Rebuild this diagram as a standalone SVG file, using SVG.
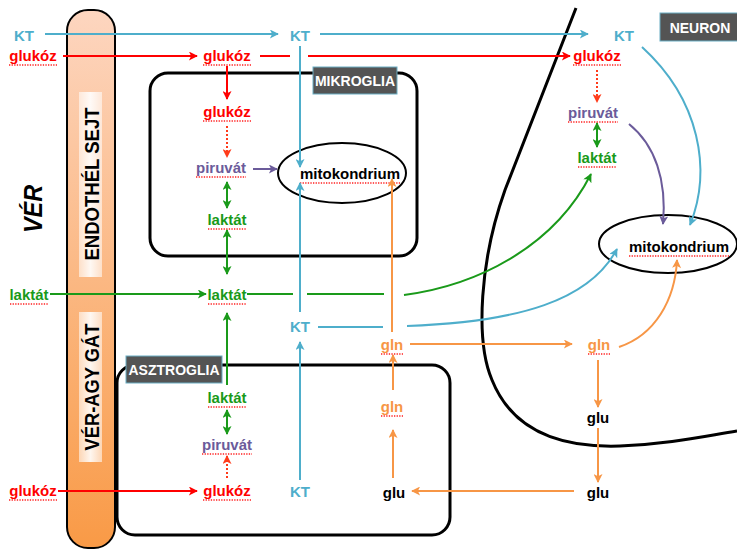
<svg xmlns="http://www.w3.org/2000/svg" width="737" height="552" viewBox="0 0 737 552">
<defs>
<linearGradient id="barGrad" x1="0" y1="0" x2="0" y2="1">
<stop offset="0" stop-color="#fdd6c0"/>
<stop offset="1" stop-color="#f99a46"/>
</linearGradient>
<linearGradient id="tagGrad" x1="0" y1="0" x2="1" y2="0">
<stop offset="0" stop-color="#fff" stop-opacity="0.55"/>
<stop offset="0.5" stop-color="#fff" stop-opacity="0.9"/>
<stop offset="1" stop-color="#fff" stop-opacity="0.55"/>
</linearGradient>
<marker id="aBlue" viewBox="0 0 10 10" refX="9" refY="5" markerWidth="10" markerHeight="9" markerUnits="userSpaceOnUse" orient="auto-start-reverse"><path d="M0,0 L10,5 L0,10 L2.5,5 z" fill="#4eaecb"/></marker>
<marker id="aRed" viewBox="0 0 10 10" refX="9" refY="5" markerWidth="10" markerHeight="9" markerUnits="userSpaceOnUse" orient="auto-start-reverse"><path d="M0,0 L10,5 L0,10 L2.5,5 z" fill="#ff0000"/></marker>
<marker id="aRed2" viewBox="0 0 10 10" refX="9" refY="5" markerWidth="10" markerHeight="9" markerUnits="userSpaceOnUse" orient="auto-start-reverse"><path d="M0,0 L10,5 L0,10 L2.5,5 z" fill="#ff3b1a"/></marker>
<marker id="aGreen" viewBox="0 0 10 10" refX="9" refY="5" markerWidth="10" markerHeight="9" markerUnits="userSpaceOnUse" orient="auto-start-reverse"><path d="M0,0 L10,5 L0,10 L2.5,5 z" fill="#1a9a1a"/></marker>
<marker id="aPurple" viewBox="0 0 10 10" refX="9" refY="5" markerWidth="10" markerHeight="9" markerUnits="userSpaceOnUse" orient="auto-start-reverse"><path d="M0,0 L10,5 L0,10 L2.5,5 z" fill="#6b5b9a"/></marker>
<marker id="aOrange" viewBox="0 0 10 10" refX="9" refY="5" markerWidth="10" markerHeight="9" markerUnits="userSpaceOnUse" orient="auto-start-reverse"><path d="M0,0 L10,5 L0,10 L2.5,5 z" fill="#f79646"/></marker>
</defs>
<style>
text{font-family:"Liberation Sans",Arial,sans-serif;font-weight:bold;font-size:15px;text-anchor:middle}
.blue{fill:#4eaecb}.red{fill:#ff0000}.green{fill:#1a9a1a}.purple{fill:#6b5b9a}.orange{fill:#f79646}.black{fill:#000}
.ul{stroke:#ff2020;stroke-width:1.3;stroke-dasharray:1.3,1.3;fill:none}
.tag rect{fill:#545454;stroke:#6aaec4;stroke-width:1}
.tag text{fill:#fff;font-size:14px}
.cell{fill:none;stroke:#000;stroke-width:3}
.ln{fill:none;stroke-width:2}
.lb{stroke:#4eaecb}.lr{stroke:#ff0000}.lr2{stroke:#ff3b1a;stroke-dasharray:2,2}.lg{stroke:#1a9a1a}.lp{stroke:#6b5b9a}.lo{stroke:#f79646}
</style>
<rect width="737" height="552" fill="#fff"/>

<g id="bar">
<rect x="67" y="10" width="48" height="538" rx="21" fill="url(#barGrad)" stroke="#000" stroke-width="2"/>
<rect x="79" y="92" width="23" height="185" fill="url(#tagGrad)"/>
<rect x="79" y="312" width="23" height="150" fill="url(#tagGrad)"/>
<text transform="translate(99,184) rotate(-90)" style="font-size:21px" textLength="153" lengthAdjust="spacingAndGlyphs" class="black">ENDOTHÉL SEJT</text>
<text transform="translate(99,387) rotate(-90)" style="font-size:21px" textLength="127" lengthAdjust="spacingAndGlyphs" class="black">VÉR-AGY GÁT</text>
</g>
<g id="ver"><text transform="translate(42,209) rotate(-90)" style="font-size:26px;font-style:italic" textLength="48" lengthAdjust="spacingAndGlyphs" class="black">VÉR</text></g>

<g id="mikroglia">
<rect class="cell" x="150" y="73" width="267" height="183" rx="18"/>
</g>
<g id="asztroglia">
<rect class="cell" x="117" y="365" width="333" height="170" rx="18"/>
</g>
<g id="neuron-membrane">
<path class="cell" d="M576,8 L505,190 C480,260 475,340 492,380 C512,430 560,448 620,446 C670,444 705,436 737,431"/>
</g>
<g id="mito-mikroglia">
<ellipse cx="342" cy="173" rx="64" ry="30" fill="none" stroke="#000" stroke-width="2"/>
<text x="350" y="179" class="black">mitokondrium</text>
<line class="ul" x1="300" y1="183" x2="400" y2="183"/>
</g>
<g id="mito-neuron">
<ellipse cx="668" cy="244" rx="69" ry="29" fill="none" stroke="#000" stroke-width="2"/>
<text x="679" y="252" class="black">mitokondrium</text>
<line class="ul" x1="629" y1="256" x2="729" y2="256"/>
</g>

<g id="connectors">
<path class="ln lb" d="M45,34 H278" marker-end="url(#aBlue)"/>
<path class="ln lb" d="M320,34 H588" marker-end="url(#aBlue)"/>
<path class="ln lb" d="M300,46 V167" marker-end="url(#aBlue)"/>
<path class="ln lb" d="M300,312 V183" marker-end="url(#aBlue)"/>
<path class="ln lb" d="M300,480 V342" marker-end="url(#aBlue)"/>
<path class="ln lb" d="M318,327 H383"/>
<path class="ln lb" d="M407,326 C520,322 590,300 617,249" marker-end="url(#aBlue)"/>
<path class="ln lb" d="M642,47 C700,100 712,170 690,225" marker-end="url(#aBlue)"/>

<path class="ln lr" d="M63,56 H197" marker-end="url(#aRed)"/>
<path class="ln lr" d="M260,56 H290"/>
<path class="ln lr" d="M308,56 H570" marker-end="url(#aRed)"/>
<path class="ln lr" d="M227,66 V99" marker-end="url(#aRed)"/>
<path class="ln lr2" d="M227,126 V157" marker-end="url(#aRed2)"/>
<path class="ln lr2" d="M597,70 V102" marker-end="url(#aRed2)"/>
<path class="ln lr" d="M58,491 H197" marker-end="url(#aRed)"/>
<path class="ln lr2" d="M227,478 V456" marker-end="url(#aRed2)"/>

<path class="ln lg" d="M50,294 H206" marker-end="url(#aGreen)"/>
<path class="ln lg" d="M247,294 H293"/>
<path class="ln lg" d="M307,294 H384"/>
<path class="ln lg" d="M404,295 C480,285 555,245 591,174" marker-end="url(#aGreen)"/>
<path class="ln lg" d="M227,182 V208" marker-start="url(#aGreen)" marker-end="url(#aGreen)"/>
<path class="ln lg" d="M227,230 V274" marker-start="url(#aGreen)" marker-end="url(#aGreen)"/>
<path class="ln lg" d="M227,385 V313" marker-end="url(#aGreen)"/>
<path class="ln lg" d="M227,410 V434" marker-start="url(#aGreen)" marker-end="url(#aGreen)"/>
<path class="ln lg" d="M597,123 V147" marker-start="url(#aGreen)" marker-end="url(#aGreen)"/>

<path class="ln lp" d="M253,169 H277" marker-end="url(#aPurple)"/>
<path class="ln lp" d="M629,124 C655,145 667,180 663,224" marker-end="url(#aPurple)"/>

<path class="ln lo" d="M392,332 V179" marker-end="url(#aOrange)"/>
<path class="ln lo" d="M410,344 H572" marker-end="url(#aOrange)"/>
<path class="ln lo" d="M619,347 C655,335 675,300 677,260" marker-end="url(#aOrange)"/>
<path class="ln lo" d="M598,360 V407" marker-end="url(#aOrange)"/>
<path class="ln lo" d="M598,428 V482" marker-end="url(#aOrange)"/>
<path class="ln lo" d="M574,491 H412" marker-end="url(#aOrange)"/>
<path class="ln lo" d="M393,478 V430" marker-end="url(#aOrange)"/>
<path class="ln lo" d="M393,390 V355" marker-end="url(#aOrange)"/>
</g>

<g id="tag-mikroglia" class="tag"><rect x="313" y="67" width="84" height="27"/><text x="355" y="86">MIKROGLIA</text></g>
<g id="tag-asztroglia" class="tag"><rect x="126" y="356" width="96" height="27"/><text x="174" y="375">ASZTROGLIA</text></g>
<g id="tag-neuron" class="tag"><rect x="660" y="13" width="80" height="28"/><text x="700" y="33">NEURON</text></g>

<g id="n-kt-left"><text x="24" y="41" class="blue">KT</text></g>
<g id="n-glukoz-left"><text x="33" y="61" class="red">glukóz</text><line class="ul" x1="9" y1="65" x2="57" y2="65"/></g>
<g id="n-kt-top"><text x="300" y="41" class="blue">KT</text></g>
<g id="n-glukoz-top"><text x="227" y="61" class="red">glukóz</text><line class="ul" x1="203" y1="65" x2="251" y2="65"/></g>
<g id="n-kt-neuron"><text x="624" y="41" class="blue">KT</text></g>
<g id="n-glukoz-neuron"><text x="597" y="61" class="red">glukóz</text><line class="ul" x1="573" y1="65" x2="621" y2="65"/></g>
<g id="n-glukoz-mikro"><text x="227" y="117" class="red">glukóz</text><line class="ul" x1="203" y1="121" x2="251" y2="121"/></g>
<g id="n-piruvat-mikro"><text x="221" y="173" class="purple">piruvát</text><line class="ul" x1="196" y1="177" x2="246" y2="177"/></g>
<g id="n-laktat-mikro"><text x="227" y="225" class="green">laktát</text><line class="ul" x1="208" y1="229" x2="247" y2="229"/></g>
<g id="n-piruvat-neuron"><text x="593" y="118" class="purple">piruvát</text><line class="ul" x1="568" y1="122" x2="618" y2="122"/></g>
<g id="n-laktat-neuron"><text x="597" y="163" class="green">laktát</text><line class="ul" x1="578" y1="167" x2="617" y2="167"/></g>
<g id="n-laktat-left"><text x="29" y="300" class="green">laktát</text><line class="ul" x1="10" y1="304" x2="49" y2="304"/></g>
<g id="n-laktat-center"><text x="227" y="300" class="green">laktát</text><line class="ul" x1="208" y1="304" x2="247" y2="304"/></g>
<g id="n-kt-mid"><text x="300" y="332" class="blue">KT</text></g>
<g id="n-gln-mid"><text x="392" y="350" class="orange">gln</text><line class="ul" x1="381" y1="354" x2="403" y2="354"/></g>
<g id="n-gln-neuron"><text x="599" y="350" class="orange">gln</text><line class="ul" x1="588" y1="354" x2="610" y2="354"/></g>
<g id="n-laktat-astro"><text x="227" y="403" class="green">laktát</text><line class="ul" x1="208" y1="407" x2="247" y2="407"/></g>
<g id="n-gln-astro"><text x="392" y="412" class="orange">gln</text><line class="ul" x1="381" y1="416" x2="403" y2="416"/></g>
<g id="n-glu-neuron"><text x="598" y="423" class="black">glu</text></g>
<g id="n-piruvat-astro"><text x="227" y="450" class="purple">piruvát</text><line class="ul" x1="202" y1="454" x2="252" y2="454"/></g>
<g id="n-glukoz-left2"><text x="33" y="496" class="red">glukóz</text><line class="ul" x1="9" y1="500" x2="57" y2="500"/></g>
<g id="n-glukoz-astro"><text x="227" y="496" class="red">glukóz</text><line class="ul" x1="203" y1="500" x2="251" y2="500"/></g>
<g id="n-kt-bottom"><text x="300" y="497" class="blue">KT</text></g>
<g id="n-glu-astro"><text x="394" y="498" class="black">glu</text></g>
<g id="n-glu-bottom"><text x="598" y="498" class="black">glu</text></g>
</svg>
